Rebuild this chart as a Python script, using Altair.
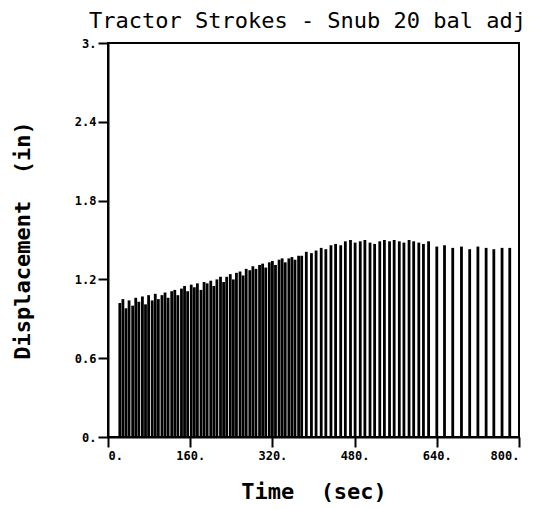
import altair as alt
import pandas as pd

# stroke times (sec) and peak displacements (in)
times_a = [23, 29, 35, 41, 48, 54, 60, 67, 73, 79, 86, 92, 98, 105, 111, 117,
           124, 130, 136, 143, 149, 155, 162, 168, 174, 181, 187, 193, 200, 206,
           212, 219, 225, 231, 238, 244, 250, 257, 263, 269, 276, 282, 288, 295,
           301, 307, 314, 320, 326, 333, 339, 345, 352, 358, 364, 371]
peaks_a = [1.02, 1.05, 0.98, 1.04, 1.00, 1.06, 1.03, 1.07, 1.01, 1.08, 1.04, 1.09,
           1.05, 1.08, 1.10, 1.06, 1.11, 1.12, 1.08, 1.13, 1.15, 1.11, 1.16, 1.14,
           1.17, 1.12, 1.18, 1.17, 1.19, 1.15, 1.20, 1.22, 1.18, 1.22, 1.24, 1.20,
           1.25, 1.26, 1.23, 1.28, 1.27, 1.30, 1.28, 1.31, 1.32, 1.29, 1.33, 1.34,
           1.31, 1.35, 1.36, 1.33, 1.36, 1.37, 1.35, 1.38]
times_b = [377, 386, 396, 405, 415, 424, 434, 443, 453, 462, 472, 481, 491, 500,
           510, 519, 529, 538, 548, 557, 567, 576, 586, 595, 605, 614, 624]
peaks_b = [1.38, 1.41, 1.40, 1.42, 1.44, 1.43, 1.46, 1.47, 1.46, 1.49, 1.50, 1.48,
           1.49, 1.50, 1.48, 1.47, 1.49, 1.50, 1.49, 1.50, 1.49, 1.48, 1.50, 1.49,
           1.48, 1.47, 1.49]
times_c = [640, 655, 671, 688, 704, 720, 736, 751, 767, 782]
peaks_c = [1.45, 1.46, 1.44, 1.45, 1.43, 1.45, 1.44, 1.43, 1.44, 1.44]

x_ticks = [0, 160, 320, 480, 640, 800]
y_ticks = [0, 0.6, 1.2, 1.8, 2.4, 3.0]

df = pd.DataFrame({
    "t": times_a + times_b + times_c,
    "peak": peaks_a + peaks_b + peaks_c,
})

FONT = "DejaVu Sans Mono"

chart = alt.Chart(df).mark_rule(color="black", strokeWidth=2.8).encode(
    x=alt.X("t:Q", scale=alt.Scale(domain=[0, 800], nice=False, zero=False),
            axis=alt.Axis(values=x_ticks, grid=False, tickSize=10, tickWidth=2,
                          tickColor="black", domainColor="black", domainWidth=2,
                          labelExpr="format(datum.value, 'd') + '.'",
                          labelFont=FONT, labelFontWeight="bold", labelFontSize=12,
                          labelColor="black", labelPadding=3,
                          title="Time\u00a0\u00a0(sec)", titleFont=FONT, titleFontWeight="bold",
                          titleFontSize=22, titleColor="black", titlePadding=20)),
    y=alt.Y("peak:Q", scale=alt.Scale(domain=[0, 3], nice=False),
            axis=alt.Axis(values=y_ticks, grid=False, tickSize=10, tickWidth=2,
                          tickColor="black", domainColor="black", domainWidth=2,
                          labelExpr="datum.value == 0 ? '0.' : (datum.value == 3 ? '3.' : format(datum.value, '.1f'))",
                          labelFont=FONT, labelFontWeight="bold", labelFontSize=12,
                          labelColor="black", labelPadding=2,
                          title="Displacement\u00a0\u00a0(in)", titleFont=FONT, titleFontWeight="bold",
                          titleFontSize=22, titleColor="black", titlePadding=40)),
    y2=alt.datum(0),
).properties(
    width=411,
    height=394,
    autosize=alt.AutoSizeParams(type="none"),
    padding={"left": 100, "top": 35, "right": 10, "bottom": 70},
    title=alt.TitleParams("Tractor Strokes - Snub 20 bal adj", font=FONT,
                          fontSize=22, fontWeight="normal", color="black",
                          anchor="middle", offset=4, dx=-6),
).configure_view(stroke="black", strokeWidth=2)

chart.save("out.html", embed_options={"renderer": "svg", "actions": False})
